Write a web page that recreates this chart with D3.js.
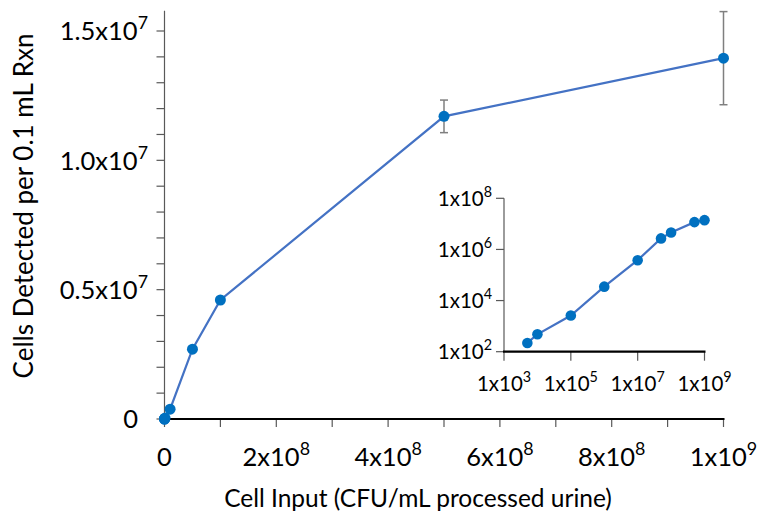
<!DOCTYPE html>
<html>
<head>
<meta charset="utf-8">
<script src="https://cdn.jsdelivr.net/npm/d3@7"></script>
<style>
  html, body { margin: 0; padding: 0; background: #ffffff; }
  svg { display: block; font-family: Lato, "Open Sans", sans-serif; }
</style>
</head>
<body>
<svg id="chart" width="761" height="516"></svg>
<script>
// ---- data ----
const cellInput = [5e3, 1e4, 1e5, 1e6, 1e7, 5e7, 1e8, 5e8, 1e9];
const cellsDetected = [220, 480, 2600, 35000, 380000, 2.7e6, 4.6e6, 1.17e7, 1.395e7];
const errorHalf = [0, 0, 0, 0, 0, 0, 0, 0.63e6, 1.8e6];

const mainYTicks = [0, 5e6, 1e7, 1.5e7];
const mainYTickLabels = [["0", ""], ["0.5x10", "7"], ["1.0x10", "7"], ["1.5x10", "7"]];
const mainXTicks = [0, 2e8, 4e8, 6e8, 8e8, 1e9];
const mainXTickLabels = [["0", ""], ["2x10", "8"], ["4x10", "8"], ["6x10", "8"], ["8x10", "8"], ["1x10", "9"]];

const insetXTicks = [1e3, 1e5, 1e7, 1e9];
const insetXTickLabels = [["1x10", "3"], ["1x10", "5"], ["1x10", "7"], ["1x10", "9"]];
const insetYTicks = [1e2, 1e4, 1e6, 1e8];
const insetYTickLabels = [["1x10", "2"], ["1x10", "4"], ["1x10", "6"], ["1x10", "8"]];

const xTitle = "Cell Input (CFU/mL processed urine)";
const yTitle = "Cells Detected per 0.1 mL Rxn";

// ---- styles ----
const lineColor = "#4472C4";
const markerColor = "#0070C0";
const axisGray = "#595959";
const errColor = "#7f7f7f";

const svg = d3.select("#chart");

function labelText(sel, parts, sizeBase) {
  sel.text(null);
  sel.append("tspan").text(parts[0]);
  if (parts[1]) {
    sel.append("tspan")
      .attr("dy", -0.42 * sizeBase)
      .attr("font-size", sizeBase * 0.7)
      .text(parts[1]);
  }
}

// ---- main chart ----
const x = d3.scaleLinear().domain([0, 1e9]).range([164.5, 723.5]);
const y = d3.scaleLinear().domain([0, 1.5e7]).range([419, 31]);

const main = svg.append("g");

main.append("line")
  .attr("x1", x(0)).attr("x2", x(0))
  .attr("y1", y(0)).attr("y2", y(1.578e7))
  .attr("stroke", axisGray).attr("stroke-width", 1.2);

main.selectAll(".ytick").data(d3.range(0, 1.5e7 + 1, 1e6)).join("line")
  .attr("x1", x(0) - 8).attr("x2", x(0))
  .attr("y1", d => y(d)).attr("y2", d => y(d))
  .attr("stroke", axisGray).attr("stroke-width", 1.2);

const mainFont = 25.5;
main.selectAll(".ylab").data(mainYTicks).join("text")
  .attr("x", (d, i) => mainYTickLabels[i][1] ? 148 : 138)
  .attr("y", d => y(d) + 0.36 * mainFont)
  .attr("text-anchor", "end")
  .attr("font-size", mainFont)
  .attr("fill", "#000")
  .each(function(d, i) { labelText(d3.select(this), mainYTickLabels[i], mainFont); });

main.selectAll(".xtick").data(d3.range(0, 1e9 + 1, 1e8)).join("line")
  .attr("x1", d => x(d)).attr("x2", d => x(d))
  .attr("y1", y(0)).attr("y2", y(0) + 8)
  .attr("stroke", axisGray).attr("stroke-width", 1.2);

main.append("line")
  .attr("x1", x(0) - 1).attr("x2", x(1e9) + 1)
  .attr("y1", y(0)).attr("y2", y(0))
  .attr("stroke", "#000").attr("stroke-width", 2.2);

main.selectAll(".xlab").data(mainXTicks).join("text")
  .attr("x", d => x(d))
  .attr("y", 466)
  .attr("text-anchor", "middle")
  .attr("font-size", mainFont)
  .attr("fill", "#000")
  .each(function(d, i) { labelText(d3.select(this), mainXTickLabels[i], mainFont); });

// titles
main.append("text")
  .attr("x", 418).attr("y", 507)
  .attr("text-anchor", "middle")
  .attr("font-size", 24.5)
  .attr("fill", "#000")
  .text(xTitle);

main.append("text")
  .attr("transform", "translate(33,206) rotate(-90)")
  .attr("text-anchor", "middle")
  .attr("font-size", 26)
  .attr("fill", "#000")
  .text(yTitle);

const mainData = cellInput.map((v, i) => ({ x: v, y: cellsDetected[i], e: errorHalf[i] }));

// error bars
const eb = main.selectAll(".err").data(mainData.filter(d => d.e > 0)).join("g");
eb.append("line")
  .attr("x1", d => x(d.x)).attr("x2", d => x(d.x))
  .attr("y1", d => y(d.y - d.e)).attr("y2", d => y(d.y + d.e))
  .attr("stroke", errColor).attr("stroke-width", 1.5);
eb.append("line")
  .attr("x1", d => x(d.x) - 4).attr("x2", d => x(d.x) + 4)
  .attr("y1", d => y(d.y - d.e)).attr("y2", d => y(d.y - d.e))
  .attr("stroke", errColor).attr("stroke-width", 1.5);
eb.append("line")
  .attr("x1", d => x(d.x) - 4).attr("x2", d => x(d.x) + 4)
  .attr("y1", d => y(d.y + d.e)).attr("y2", d => y(d.y + d.e))
  .attr("stroke", errColor).attr("stroke-width", 1.5);

main.append("path")
  .datum(mainData)
  .attr("fill", "none")
  .attr("stroke", lineColor)
  .attr("stroke-width", 2.2)
  .attr("d", d3.line().x(d => x(d.x)).y(d => y(d.y)));

main.selectAll(".pt").data(mainData).join("circle")
  .attr("cx", d => x(d.x)).attr("cy", d => y(d.y))
  .attr("r", 5.5)
  .attr("fill", markerColor);

// ---- inset (log-log) ----
const ix = d3.scaleLog().domain([1e3, 1e9]).range([504, 704.5]);
const iy = d3.scaleLog().domain([1e2, 1e8]).range([351.7, 198.3]);
const inset = svg.append("g");

inset.append("line")
  .attr("x1", ix(1e3)).attr("x2", ix(1e3))
  .attr("y1", iy(1e2)).attr("y2", iy(1e8))
  .attr("stroke", axisGray).attr("stroke-width", 1.2);

inset.selectAll(".iyt").data(insetYTicks).join("line")
  .attr("x1", ix(1e3) - 8).attr("x2", ix(1e3))
  .attr("y1", d => iy(d)).attr("y2", d => iy(d))
  .attr("stroke", axisGray).attr("stroke-width", 1.2);

inset.selectAll(".ixt").data(insetXTicks).join("line")
  .attr("x1", d => ix(d)).attr("x2", d => ix(d))
  .attr("y1", iy(1e2)).attr("y2", iy(1e2) + 9)
  .attr("stroke", axisGray).attr("stroke-width", 1.2);

inset.append("line")
  .attr("x1", ix(1e3) - 1).attr("x2", ix(1e9) + 1)
  .attr("y1", iy(1e2)).attr("y2", iy(1e2))
  .attr("stroke", "#000").attr("stroke-width", 2.2);

const insetFont = 20.5;
inset.selectAll(".iyl").data(insetYTicks).join("text")
  .attr("x", 492)
  .attr("y", d => iy(d) + 0.36 * insetFont)
  .attr("text-anchor", "end")
  .attr("font-size", insetFont)
  .attr("fill", "#000")
  .each(function(d, i) { labelText(d3.select(this), insetYTickLabels[i], insetFont); });

inset.selectAll(".ixl").data(insetXTicks).join("text")
  .attr("x", d => ix(d))
  .attr("y", 390.5)
  .attr("text-anchor", "middle")
  .attr("font-size", insetFont)
  .attr("fill", "#000")
  .each(function(d, i) { labelText(d3.select(this), insetXTickLabels[i], insetFont); });

inset.append("path")
  .datum(mainData)
  .attr("fill", "none")
  .attr("stroke", lineColor)
  .attr("stroke-width", 2.2)
  .attr("d", d3.line().x(d => ix(d.x)).y(d => iy(d.y)));

inset.selectAll(".ipt").data(mainData).join("circle")
  .attr("cx", d => ix(d.x)).attr("cy", d => iy(d.y))
  .attr("r", 5.3)
  .attr("fill", markerColor);
</script>
</body>
</html>
